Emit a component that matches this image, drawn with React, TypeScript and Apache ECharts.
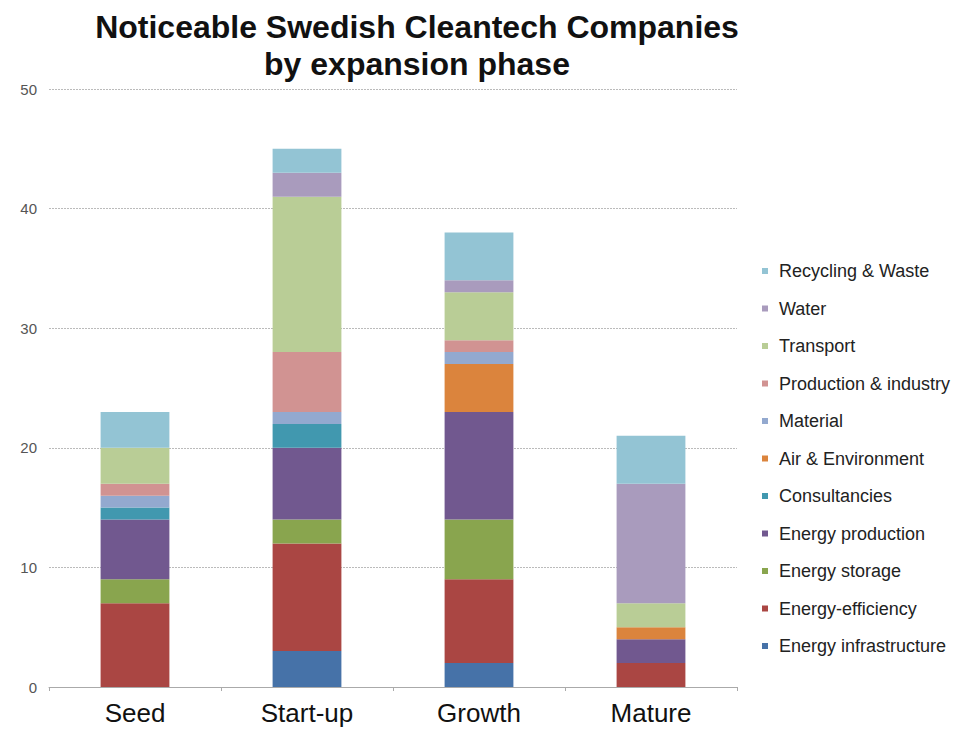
import React, { useEffect, useRef } from "react";
import * as echarts from "echarts";

const categories = ["Seed", "Start-up", "Growth", "Mature"];
const seriesNames = [
  "Energy infrastructure",
  "Energy-efficiency",
  "Energy storage",
  "Energy production",
  "Consultancies",
  "Air & Environment",
  "Material",
  "Production & industry",
  "Transport",
  "Water",
  "Recycling & Waste",
];
const energyInfrastructure = [0, 3, 2, 0];
const energyEfficiency = [7, 9, 7, 2];
const energyStorage = [2, 2, 5, 0];
const energyProduction = [5, 6, 9, 2];
const consultancies = [1, 2, 0, 0];
const airEnvironment = [0, 0, 4, 1];
const material = [1, 1, 1, 0];
const productionIndustry = [1, 5, 1, 0];
const transport = [3, 13, 4, 2];
const water = [0, 2, 1, 10];
const recyclingWaste = [3, 2, 4, 4];
const seriesValues = [
  energyInfrastructure,
  energyEfficiency,
  energyStorage,
  energyProduction,
  consultancies,
  airEnvironment,
  material,
  productionIndustry,
  transport,
  water,
  recyclingWaste,
];
const colors = [
  "#4672A8",
  "#AA4643",
  "#89A54E",
  "#71588F",
  "#4198AF",
  "#DB843D",
  "#93A9CF",
  "#D19392",
  "#B9CD96",
  "#A99BBD",
  "#93C4D4",
];

export default function App() {
  const ref = useRef<HTMLDivElement>(null);
  useEffect(() => {
    document.body.style.margin = "0";
    const chart = echarts.init(ref.current!, undefined, { renderer: "svg" });
    chart.setOption({
      animation: false,
      backgroundColor: "#ffffff",
      color: colors,
      title: {
        text: "Noticeable Swedish Cleantech Companies\nby expansion phase",
        left: 412,
        top: 3,
        textAlign: "center",
        textStyle: {
          fontFamily: "Liberation Sans, Arial, sans-serif",
          fontSize: 32,
          fontWeight: "bold",
          color: "#111111",
          lineHeight: 37,
        },
      },
      legend: {
        orient: "vertical",
        left: 757,
        top: 256,
        data: [...seriesNames].reverse(),
        icon: "rect",
        itemWidth: 6,
        itemHeight: 6,
        itemGap: 17.5,
        textStyle: {
          fontFamily: "Liberation Sans, Arial, sans-serif",
          fontSize: 18,
          color: "#222222",
          lineHeight: 20,
          padding: [0, 0, 0, 6],
        },
      },
      grid: { left: 49, right: 242, top: 89, bottom: 42, containLabel: false },
      xAxis: {
        type: "category",
        data: categories,
        axisLine: { lineStyle: { color: "#aaaaaa", width: 1 } },
        axisTick: { show: true, length: 4, lineStyle: { color: "#aaaaaa" } },
        axisLabel: {
          fontFamily: "Liberation Sans, Arial, sans-serif",
          fontSize: 26,
          color: "#111111",
          margin: 13,
        },
      },
      yAxis: {
        type: "value",
        min: 0,
        max: 50,
        interval: 10,
        axisLine: { show: false },
        axisTick: { show: false },
        axisLabel: {
          fontFamily: "Liberation Sans, Arial, sans-serif",
          fontSize: 15,
          color: "#555555",
          margin: 12,
        },
        splitLine: { lineStyle: { color: "#bbbbbb", type: [2, 1], width: 1 } },
      },
      series: seriesNames.map((name, i) => ({
        name,
        type: "bar",
        stack: "total",
        barWidth: "40%",
        data: seriesValues[i],
        itemStyle: { color: colors[i] },
      })),
    });
    return () => chart.dispose();
  }, []);
  return <div ref={ref} style={{ width: 979, height: 729 }} />;
}
